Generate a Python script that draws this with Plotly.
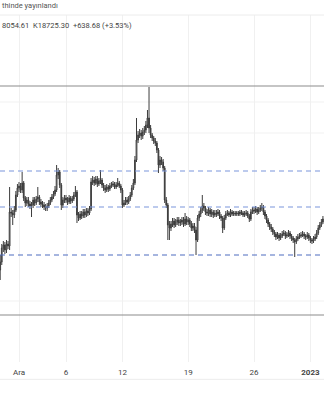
import pandas as pd
import plotly.graph_objects as go

# ---- data (4h candles from 29 Nov 2022) ----
first_open = 16560
closes = [16640,16780,16810,16760,16820,16800,17140,17130,17110,17160,17310,17380,
          17400,17360,17430,17280,17230,17260,17220,17200,17210,17260,17230,17270,
          17290,17240,17220,17210,17190,17180,17200,17230,17260,17290,17320,17360,
          17510,17540,17410,17210,17260,17280,17260,17240,17280,17250,17270,17310,
          17340,17110,17080,17120,17100,17140,17110,17150,17130,17170,17440,17460,
          17430,17470,17420,17450,17460,17410,17380,17360,17390,17370,17400,17410,
          17420,17390,17410,17430,17400,17360,17210,17230,17260,17240,17270,17310,
          17380,17430,17660,17860,17910,17930,17900,17940,17960,18010,18080,17980,
          17910,17880,17850,17830,17760,17610,17660,17640,17580,17260,17210,17010,
          16980,17020,17050,17010,17040,17060,17030,17040,17060,17020,17070,17040,
          17060,17020,16980,17000,16960,16860,17080,17120,17160,17200,17180,17140,
          17130,17160,17120,17140,17110,17130,17120,17140,17100,17080,16980,17080,
          17120,17130,17110,17140,17120,17130,17120,17130,17120,17140,17130,17110,
          17120,17130,17100,17070,17140,17160,17150,17170,17140,17160,17180,17190,
          17140,17100,17060,17020,16990,16970,16940,16920,16890,16910,16880,16900,
          16920,16930,16900,16910,16930,16900,16880,16860,16840,16870,16890,16900,
          16910,16920,16900,16890,16910,16880,16860,16850,16870,16890,16930,16980,
          17010,17040,17070]
highs = [16710,16820,16850,16840,16860,16850,17390,17180,17160,17200,17350,17420,
         17440,17430,17540,17450,17300,17290,17290,17250,17240,17290,17290,17300,
         17390,17310,17270,17250,17240,17220,17230,17260,17290,17320,17350,17400,
         17610,17580,17560,17430,17290,17310,17310,17290,17310,17300,17300,17340,
         17400,17360,17140,17150,17150,17170,17170,17180,17180,17200,17480,17500,
         17490,17500,17500,17480,17560,17480,17430,17410,17420,17410,17430,17440,
         17450,17440,17440,17480,17450,17420,17380,17260,17290,17290,17300,17340,
         17410,17470,17700,18080,17950,17970,17960,17980,18000,18050,18160,18390,
         18010,17930,17900,17880,17850,17780,17700,17690,17670,17600,17290,17230,
         17050,17050,17080,17080,17070,17090,17090,17070,17090,17090,17130,17100,
         17090,17080,17050,17030,17030,16990,17110,17150,17190,17310,17230,17200,
         17170,17190,17180,17170,17160,17160,17160,17170,17160,17120,17100,17110,
         17150,17160,17150,17170,17160,17150,17150,17150,17150,17160,17160,17150,
         17150,17160,17150,17120,17170,17190,17190,17200,17190,17190,17210,17230,
         17210,17160,17120,17080,17040,17020,16990,16960,16940,16940,16930,16930,
         16950,16960,16950,16940,16960,16950,16920,16900,16880,16900,16920,16930,
         16940,16950,16940,16920,16940,16930,16900,16880,16900,16920,16960,17010,
         17040,17070,17100]
lows = [16460,16610,16740,16720,16730,16770,16760,17090,17010,17080,17140,17290,
        17340,17330,17330,17250,17190,17200,17190,17170,17090,17180,17200,17210,
        17240,17210,17190,17180,17160,17150,17150,17180,17210,17240,17270,17300,
        17340,17470,17380,17160,17180,17230,17230,17210,17220,17220,17230,17250,
        17290,17030,17050,17060,17070,17080,17080,17090,17100,17110,17150,17410,
        17400,17410,17390,17400,17420,17380,17350,17330,17340,17340,17350,17380,
        17390,17370,17370,17390,17380,17330,17180,17190,17210,17210,17220,17250,
        17290,17360,17410,17640,17830,17880,17860,17870,17910,17930,17980,17930,
        17880,17850,17820,17800,17730,17530,17580,17610,17550,17230,17180,16860,
        16860,16950,16990,16980,16990,17010,17000,17000,17010,16990,17000,17010,
        17010,16990,16950,16950,16930,16710,16840,17050,17090,17130,17150,17110,
        17100,17100,17090,17090,17080,17090,17090,17100,17070,17050,16930,16960,
        17060,17100,17090,17090,17100,17100,17100,17100,17100,17100,17110,17090,
        17090,17100,17080,17040,17050,17120,17120,17130,17110,17120,17140,17150,
        17110,17070,17030,16990,16960,16940,16910,16890,16860,16870,16850,16860,
        16880,16900,16870,16880,16890,16870,16850,16830,16690,16820,16850,16870,
        16880,16890,16870,16860,16870,16850,16830,16820,16830,16850,16870,16910,
        16960,16990,17020]
opens = [first_open] + closes[:-1]
times = pd.date_range("2022-11-29 00:00", periods=len(closes), freq="4h")

solid_levels = [18400, 16110]
dashed_levels = [17550, 17190]
dashed_low_level = 16710
grid_levels = [18240, 17930, 16250]

tick_dates = ["2022-12-01", "2022-12-06", "2022-12-12", "2022-12-19", "2022-12-26", "2023-01-01"]
tick_text = ["Ara", "6", "12", "19", "26", "<b>2023</b>"]

header_1 = "thinde yayınlandı"
header_2 = "8054.61  K18725.30  +638.68 (+3.53%)"

# ---- figure ----
fig = go.Figure()
fig.add_trace(go.Candlestick(
    x=times, open=opens, high=highs, low=lows, close=closes,
    increasing=dict(line=dict(color="#3c3c3c", width=1), fillcolor="#ffffff"),
    decreasing=dict(line=dict(color="#3c3c3c", width=1), fillcolor="#3c3c3c"),
    whiskerwidth=0, showlegend=False, hoverinfo="skip",
))

start = pd.Timestamp("2022-12-01") + pd.Timedelta(days=-19 / 9.4)
end = pd.Timestamp("2022-12-01") + pd.Timedelta(days=(324 - 19) / 9.4)

fig.update_layout(
    width=324, height=400,
    margin=dict(l=0, r=0, t=15, b=38),
    paper_bgcolor="#ffffff", plot_bgcolor="#ffffff",
    font=dict(family="Roboto, Arial, sans-serif", size=8, color="#555555"),
    xaxis=dict(
        range=[start, end], rangeslider=dict(visible=False),
        tickvals=pd.to_datetime(tick_dates), ticktext=tick_text,
        showgrid=True, gridcolor="#f0f0f0", gridwidth=1,
        zeroline=False, showline=False, ticks="",
        tickfont=dict(size=8, color="#444444"), ticklabelstandoff=4,
    ),
    yaxis=dict(
        range=[15640, 19110], showticklabels=False, showgrid=False,
        zeroline=False, showline=False, ticks="",
    ),
    annotations=[
        dict(text=header_1, xref="paper", yref="paper", x=0, y=1, xanchor="left",
             yanchor="bottom", yshift=3, showarrow=False,
             font=dict(size=7.5, color="#555555")),
        dict(text=header_2, xref="paper", yref="paper", x=0, y=1, xanchor="left",
             yanchor="top", yshift=-4, showarrow=False,
             font=dict(size=7.5, color="#444444")),
    ],
)

fig.add_shape(type="line", xref="paper", yref="paper", x0=0, x1=1, y0=1, y1=1,
              line=dict(color="#ececec", width=1))
fig.add_shape(type="line", xref="paper", yref="paper", x0=0, x1=1, y0=-0.05, y1=-0.05,
              line=dict(color="#ececec", width=1))
for g in grid_levels:
    fig.add_hline(y=g, line=dict(color="#f1f1f1", width=1), layer="below")
for lv in solid_levels:
    fig.add_hline(y=lv, line=dict(color="#8c8c8c", width=1.2))
for lv in dashed_levels:
    fig.add_hline(y=lv, line=dict(color="#7b95dc", width=1.2, dash="5px,4px"))
fig.add_hline(y=dashed_low_level, line=dict(color="#4f6cc0", width=1.2, dash="5px,4px"))

fig.write_html("out.html")
